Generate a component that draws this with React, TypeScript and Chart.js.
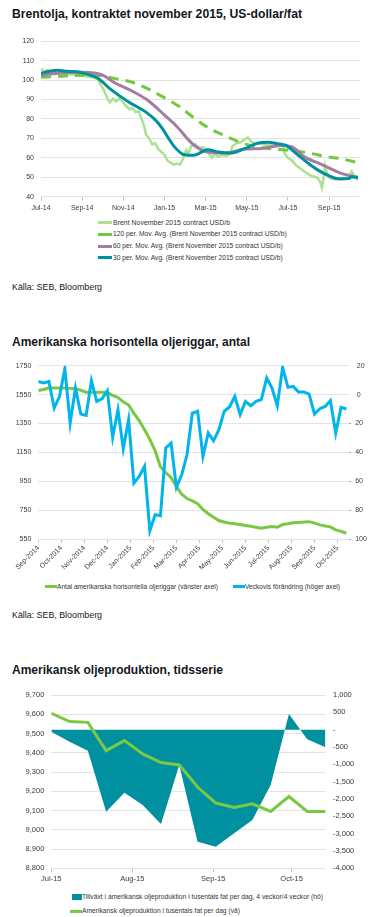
import React, { useEffect, useRef } from 'react';
import { Chart, registerables } from 'chart.js';
Chart.register(...registerables);

const FONT = "'Liberation Sans', Arial, sans-serif";
const TICK_COLOR = '#3a3a3a';
const GRID = '#e3e3e3';
const TEXT = '#14161c';

// ---------- Chart 1: Brent ----------
const title1 = 'Brentolja, kontraktet november 2015, US-dollar/fat';
const c1TickMonths = [0, 2, 4, 6, 8, 10, 12, 14];
const c1TickLabels = ['Jul-14', 'Sep-14', 'Nov-14', 'Jan-15', 'Mar-15', 'May-15', 'Jul-15', 'Sep-15'];
const brentMonths = [0, 0.15, 0.3, 0.5, 0.75, 1, 1.25, 1.5, 1.75, 2, 2.25, 2.5, 2.75, 2.9, 3.05, 3.25, 3.35, 3.5, 3.65, 3.8, 3.95, 4.1, 4.3, 4.45, 4.6, 4.75, 4.85, 5, 5.1, 5.25, 5.4, 5.55, 5.7, 5.85, 6, 6.15, 6.3, 6.45, 6.6, 6.75, 6.9, 7.05, 7.15, 7.3, 7.5, 7.7, 7.9, 8.1, 8.3, 8.45, 8.6, 8.8, 9, 9.2, 9.3, 9.5, 9.7, 9.9, 10.05, 10.2, 10.4, 10.6, 10.8, 11, 11.2, 11.5, 11.75, 11.85, 12, 12.2, 12.4, 12.6, 12.8, 13, 13.2, 13.4, 13.55, 13.65, 13.75, 13.8, 13.9, 14, 14.2, 14.4, 14.6, 14.8, 15, 15.1, 15.25, 15.4];
const brentValues = [105.8, 104.5, 105, 104, 103.5, 103, 102.8, 103, 102.5, 102.3, 101.8, 101.5, 100.5, 97.5, 95, 90, 88.5, 90.5, 89, 90.5, 89, 87, 85, 85.5, 83.5, 84, 81, 77, 72, 70, 67, 67.5, 64.5, 63, 61.5, 58.5, 57.5, 56.5, 57, 56.5, 59.5, 64, 62, 66, 67, 65, 65.5, 63.5, 60, 62, 60.5, 61.5, 61, 62, 66, 67.5, 68, 69.5, 70.5, 68.5, 67, 67.5, 67, 66.5, 67, 66.5, 66.5, 62, 60, 58.5, 56, 54.5, 53, 51.5, 50.5, 50, 48, 44.5, 51, 56, 52, 50, 49, 49, 48.8, 49.5, 51, 53, 50, 48.5];
const ma120Months = [0, 1, 2, 3, 3.5, 4.4, 5.2, 5.9, 6.7, 7.5, 8.2, 8.9, 9.5, 10.3, 11.3, 12.2, 13.1, 13.9, 14.6, 15.4];
const ma120Values = [101.5, 102, 102.5, 102.3, 101, 99, 95.5, 91.5, 86.5, 80, 75, 71.5, 68.7, 66, 64.5, 63.8, 62.3, 60.5, 59.5, 57.5];
const ma60Months = [0, 0.8, 1.9, 2.6, 3.0, 3.6, 4.4, 5.2, 6.0, 6.7, 7.1, 7.5, 8.1, 9.0, 9.9, 10.7, 11.7, 12.2, 12.8, 13.7, 14.6, 15.4];
const ma60Values = [102.5, 103.5, 104, 103.6, 102.5, 98.5, 94.5, 89.5, 82, 75, 70, 66, 63, 62.5, 64.5, 64.8, 66.4, 65.6, 60.5, 56.3, 52, 50];
const ma30Months = [0, 0.4, 0.8, 1.3, 1.9, 2.3, 2.8, 3.3, 3.8, 4.3, 5.1, 5.6, 5.9, 6.2, 6.5, 6.9, 7.2, 7.5, 8.1, 8.6, 9.25, 9.9, 10.55, 11.04, 11.5, 11.9, 12.4, 13.0, 13.5, 14.0, 14.45, 14.95, 15.1, 15.4];
const ma30Values = [103.5, 104.5, 105, 104.5, 104, 102.8, 100.7, 96, 92, 88.5, 83.5, 79, 75, 70, 65.5, 61.8, 61.3, 61.5, 64.2, 63, 62.5, 64.7, 67.6, 68, 67.3, 66.4, 62.2, 57.1, 53.4, 50.7, 49.2, 49.3, 50.3, 49.8];
const c1Legend = [
  'Brent November 2015 contract USD/b',
  '120 per. Mov. Avg. (Brent November 2015 contract USD/b)',
  '60 per. Mov. Avg. (Brent November 2015 contract USD/b)',
  '30 per. Mov. Avg. (Brent November 2015 contract USD/b)',
];
const c1Colors = ['#a9e390', '#72c83f', '#a47ea2', '#00919f'];

// ---------- Chart 2: rigs ----------
const title2 = 'Amerikanska horisontella oljeriggar, antal';
const rigTickLabels = ['Sep-2014', 'Oct-2014', 'Nov-2014', 'Dec-2014', 'Jan-2015', 'Feb-2015', 'Mar-2015', 'Apr-2015', 'May-2015', 'Jun-2015', 'Jul-2015', 'Aug-2015', 'Sep-2015', 'Oct-2015'];
const rigCount = [1579, 1585, 1595, 1595, 1595, 1595, 1593, 1590, 1580, 1567, 1567, 1567, 1567, 1565, 1545, 1530, 1500, 1478, 1420, 1370, 1306, 1240, 1160, 1050, 1010, 975, 915, 860, 830, 814, 795, 755, 725, 700, 678, 668, 660, 655, 650, 643, 638, 632, 625, 632, 636, 631, 650, 655, 662, 665, 667, 670, 660, 648, 640, 634, 613, 603, 590];
const rigWeeklyChange = [9.1, 8, 9.1, -9.3, -1.2, 17.9, -19.7, 4.5, -13.5, -14.4, 9.6, -4.7, -2.9, 2.7, -29.7, -10.5, -37.5, -17.4, -61.3, -56.7, -49.7, -94.3, -83.2, -83.9, -37, -33.6, -64.3, -55.5, -41.7, -12.8, -11.6, -42.8, -26.6, -32, -24.3, -11.6, -8.6, -1.2, -13.9, -4.7, -7.7, -4.7, -3.5, 11.5, 4.5, -7.7, 18.8, 5, 5.7, 1.8, 1.8, 0.4, -13.5, -9.8, -8.2, -4.2, -26.6, -8.9, -10];
const c2Legend = ['Antal amerikanska horisontella oljeriggar (vänster axel)', 'Veckovis förändring (höger axel)'];
const c2Colors = ['#79c843', '#00b5ec'];

// ---------- Chart 3: production ----------
const title3 = 'Amerikansk oljeproduktion, tidsserie';
const prodTickDays = [0, 31, 62, 92];
const prodTickLabels = ['Jul-15', 'Aug-15', 'Sep-15', 'Oct-15'];
const prodDays = [0, 7, 14, 21, 28, 35, 42, 49, 56, 63, 70, 77, 84, 91, 98, 105];
const prodLevel = [9605, 9562, 9558, 9411, 9463, 9394, 9349, 9337, 9222, 9139, 9116, 9135, 9095, 9173, 9095, 9095];
const prodGrowth = [-58, -346, -606, -2366, -1818, -2172, -2721, -1018, -3231, -3375, -2989, -2605, -1595, 453, -277, -508];
const c3Legend = ['Tillväxt i amerikansk oljeproduktion i tusentals fat per dag, 4 veckor/4 veckor (hö)', 'Amerikansk oljeproduktion i tusentals fat per dag (vä)'];
const c3Colors = ['#0090a0', '#7ac943'];

const source = 'Källa: SEB, Bloomberg';

const pts = (xs: number[], ys: number[]) => xs.map((x, i) => ({ x, y: ys[i] }));
const tickFont = (size: number) => ({ family: FONT, size });

let measureCtx: CanvasRenderingContext2D | null = null;
function textWidth(text: string, font: string) {
  if (!measureCtx) measureCtx = document.createElement('canvas').getContext('2d');
  if (!measureCtx) return 0;
  measureCtx.font = font;
  return measureCtx.measureText(text).width;
}

function FitText({ text, left, cy, width, size, bold, color }: { text: string; left: number; cy: number; width: number; size: number; bold?: boolean; color?: string }) {
  const weight = bold ? 'bold' : 'normal';
  const w = textWidth(text, `${weight} ${size}px ${FONT}`) || width;
  const lh = Math.round(size * 1.3);
  return (
    <div
      style={{
        position: 'absolute', left, top: cy - lh / 2, fontFamily: FONT, fontWeight: weight as any, fontSize: size,
        lineHeight: `${lh}px`, color: color || TEXT, whiteSpace: 'nowrap',
        transform: `scaleX(${width / w})`, transformOrigin: '0 50%',
      }}
    >
      {text}
    </div>
  );
}

function ChartBox({ top, height, make }: { top: number; height: number; make: () => any }) {
  const ref = useRef<HTMLCanvasElement>(null);
  useEffect(() => {
    const chart = new Chart(ref.current as HTMLCanvasElement, make());
    return () => chart.destroy();
  }, []);
  return (
    <div style={{ position: 'absolute', left: 0, top, width: 376, height }}>
      <canvas ref={ref} width={376} height={height} style={{ display: 'block', width: 376, height }} />
    </div>
  );
}

const base = {
  animation: false,
  responsive: false,
  maintainAspectRatio: false,
  plugins: { legend: { display: false }, tooltip: { enabled: false } },
  elements: { point: { radius: 0 } },
};

function make1() {
  return {
    type: 'line',
    data: {
      datasets: [
        { data: pts(ma30Months, ma30Values), borderColor: c1Colors[3], borderWidth: 3, tension: 0.4, cubicInterpolationMode: 'monotone' },
        { data: pts(ma60Months, ma60Values), borderColor: c1Colors[2], borderWidth: 3, tension: 0.4, cubicInterpolationMode: 'monotone' },
        { data: pts(ma120Months, ma120Values), borderColor: c1Colors[1], borderWidth: 3, borderDash: [10, 7], tension: 0.4, cubicInterpolationMode: 'monotone' },
        { data: pts(brentMonths, brentValues), borderColor: c1Colors[0], borderWidth: 2.5, tension: 0 },
      ],
    },
    options: {
      ...base,
      layout: { padding: { left: 0, right: 16, top: 10.7, bottom: 0 } },
      scales: {
        x: {
          type: 'linear', min: 0, max: 15.5,
          afterBuildTicks: (s: any) => { s.ticks = c1TickMonths.map((v) => ({ value: v })); },
          afterFit: (s: any) => { s.height = 19.3; },
          ticks: { callback: (v: number) => c1TickLabels[c1TickMonths.indexOf(v)], font: tickFont(7), color: TICK_COLOR, padding: 3, maxRotation: 0, autoSkip: false },
          grid: { drawOnChartArea: false, drawTicks: true, tickLength: 4, color: '#c8c8c8' },
          border: { display: false },
        },
        y: {
          min: 40, max: 120,
          afterFit: (s: any) => { s.width = 41; },
          ticks: { stepSize: 10, font: tickFont(7), color: TICK_COLOR, padding: 7, callback: (v: number) => String(v) },
          grid: { color: GRID, drawTicks: false },
          border: { display: false },
        },
      },
    },
  };
}

function make2() {
  const weeks = rigCount.map((_, i) => i);
  const tickWeeks = rigTickLabels.map((_, k) => (k * 52) / 12);
  return {
    type: 'line',
    data: {
      datasets: [
        { data: pts(weeks, rigWeeklyChange), borderColor: c2Colors[1], borderWidth: 3, yAxisID: 'y1', tension: 0 },
        { data: pts(weeks, rigCount), borderColor: c2Colors[0], borderWidth: 3, yAxisID: 'y', tension: 0 },
      ],
    },
    options: {
      ...base,
      layout: { padding: { left: 0, right: 0, top: 13.7, bottom: 0 } },
      scales: {
        x: {
          type: 'linear', min: 0, max: 58.5,
          afterBuildTicks: (s: any) => { s.ticks = tickWeeks.map((v) => ({ value: v })); },
          afterFit: (s: any) => { s.height = 43; },
          ticks: {
            callback: (v: number) => {
              const i = tickWeeks.findIndex((t) => Math.abs(t - v) < 1e-6);
              return rigTickLabels[i];
            },
            font: tickFont(7), color: TICK_COLOR, padding: 1, minRotation: 45, maxRotation: 45, autoSkip: false,
          },
          grid: { drawOnChartArea: false, drawTicks: true, tickLength: 4, color: '#c8c8c8' },
          border: { display: false },
        },
        y: {
          position: 'left', min: 550, max: 1750,
          afterFit: (s: any) => { s.width = 38.3; },
          ticks: { stepSize: 200, font: tickFont(7), color: TICK_COLOR, padding: 7, callback: (v: number) => String(v) },
          grid: { color: GRID, drawTicks: false },
          border: { display: false },
        },
        y1: {
          position: 'right', min: -100, max: 20,
          afterFit: (s: any) => { s.width = 27; },
          ticks: {
            stepSize: 20, font: tickFont(7), color: TICK_COLOR, padding: 0,
            callback: (v: number) => (v < 0 ? '-  ' + Math.abs(v) : '    ' + v),
          },
          grid: { display: false, drawTicks: false },
          border: { display: false },
        },
      },
    },
  };
}

function make3() {
  return {
    type: 'line',
    data: {
      datasets: [
        { data: pts(prodDays, prodLevel), borderColor: c3Colors[1], borderWidth: 3, yAxisID: 'y', tension: 0, order: 1 },
        { data: pts(prodDays, prodGrowth), borderColor: c3Colors[0], backgroundColor: c3Colors[0], borderWidth: 0, fill: 'origin', yAxisID: 'y1', tension: 0, order: 2 },
      ],
    },
    options: {
      ...base,
      layout: { padding: { left: 0, right: 0, top: 13, bottom: 0 } },
      scales: {
        x: {
          type: 'linear', min: 0, max: 105,
          afterBuildTicks: (s: any) => { s.ticks = prodTickDays.map((v) => ({ value: v })); },
          afterFit: (s: any) => { s.height = 17.7; },
          ticks: { callback: (v: number) => prodTickLabels[prodTickDays.indexOf(v)], font: tickFont(7.5), color: TICK_COLOR, padding: 2, maxRotation: 0, autoSkip: false },
          grid: { drawOnChartArea: false, drawTicks: true, tickLength: 4, color: '#c8c8c8' },
          border: { display: false },
        },
        y: {
          position: 'left', min: 8800, max: 9700,
          afterFit: (s: any) => { s.width = 51.3; },
          ticks: { stepSize: 100, font: tickFont(7.5), color: TICK_COLOR, padding: 7, callback: (v: number) => v.toLocaleString('en-US') },
          grid: { color: GRID, drawTicks: false },
          border: { display: false },
        },
        y1: {
          position: 'right', min: -4000, max: 1000,
          afterFit: (s: any) => { s.width = 50.5; },
          ticks: { stepSize: 500, font: tickFont(7.5), color: TICK_COLOR, padding: 7.5, callback: (v: number) => (v === 0 ? '-' : v.toLocaleString('en-US')) },
          grid: { display: false, drawTicks: false },
          border: { display: false },
        },
      },
    },
  };
}

const legLine = (left: number, cy: number, w: number, color: string, h = 3): React.CSSProperties => ({
  position: 'absolute', left, top: cy - h / 2, width: w, height: h, background: color,
});

export default function App() {
  const c1Rows = [222.7, 234.3, 246.3, 257.7];
  const c1Widths = [117, 174, 170, 170];
  return (
    <div style={{ position: 'absolute', left: 0, top: 0, width: 376, height: 917, background: '#fff', overflow: 'hidden' }}>
      <FitText text={title1} left={12} cy={13.5} width={290} size={12} bold />
      <ChartBox top={30} height={186} make={make1} />
      {c1Legend.map((t, i) => (
        <React.Fragment key={i}>
          <div style={legLine(98, c1Rows[i], 14, c1Colors[i])} />
          <FitText text={t} left={113} cy={c1Rows[i]} width={c1Widths[i]} size={7.5} color="#333" />
        </React.Fragment>
      ))}
      <FitText text={source} left={12} cy={286.7} width={90} size={9.5} />

      <FitText text={title2} left={12} cy={341.5} width={238} size={12} bold />
      <ChartBox top={352} height={230} make={make2} />
      <div style={legLine(45, 586.7, 12, c2Colors[0])} />
      <FitText text={c2Legend[0]} left={57} cy={586.7} width={161} size={7.5} color="#333" />
      <div style={legLine(233, 586.7, 12, c2Colors[1])} />
      <FitText text={c2Legend[1]} left={245} cy={586.7} width={95} size={7.5} color="#333" />
      <FitText text={source} left={12} cy={615} width={90} size={9.5} />

      <FitText text={title3} left={12} cy={669.9} width={211} size={12} bold />
      <ChartBox top={682} height={204} make={make3} />
      <div style={legLine(72, 896.7, 10, c3Colors[0], 6)} />
      <FitText text={c3Legend[0]} left={82} cy={896.7} width={241} size={7.5} color="#333" />
      <div style={legLine(70, 911, 12, c3Colors[1])} />
      <FitText text={c3Legend[1]} left={82} cy={911} width={158} size={7.5} color="#333" />
    </div>
  );
}
